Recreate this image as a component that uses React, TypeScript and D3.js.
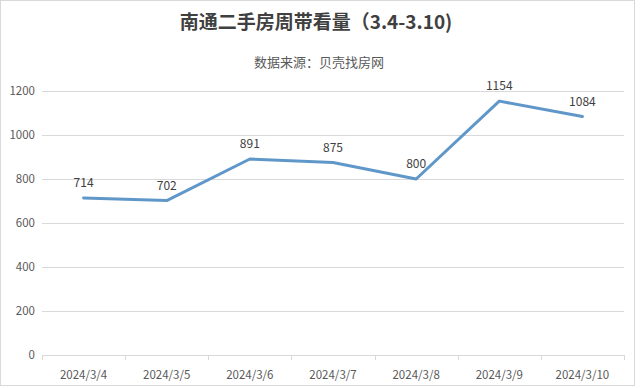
import React, { useRef, useEffect } from 'react';
import * as d3 from 'd3';

const title = '南通二手房周带看量（3.4-3.10)';
const subtitle = '数据来源：贝壳找房网';
const dates = ['2024/3/4', '2024/3/5', '2024/3/6', '2024/3/7', '2024/3/8', '2024/3/9', '2024/3/10'];
const views = [714, 702, 891, 875, 800, 1154, 1084];
const yTicks = [0, 200, 400, 600, 800, 1000, 1200];

const W = 640;
const H = 388;
const font = '"Noto Sans CJK SC", "Noto Sans", sans-serif';

function App() {
  const svgRef = useRef<SVGSVGElement>(null);

  useEffect(() => {
    const svg = d3.select(svgRef.current);
    svg.selectAll('*').remove();

    const left = 42, right = 624, top = 91, bottom = 355;

    // outer frame
    svg.append('rect')
      .attr('x', 0.5).attr('y', 0.5)
      .attr('width', 634).attr('height', 385)
      .attr('fill', '#fff')
      .attr('stroke', '#d9d9d9');

    const x = d3.scaleBand().domain(dates).range([left, right]);
    const y = d3.scaleLinear().domain([0, 1200]).range([bottom, top]);

    // gridlines
    svg.append('g')
      .selectAll('line')
      .data(yTicks.filter(t => t > 0))
      .join('line')
      .attr('x1', left).attr('x2', right)
      .attr('y1', d => Math.round(y(d)) + 0.5)
      .attr('y2', d => Math.round(y(d)) + 0.5)
      .attr('stroke', '#d9d9d9');

    // y labels
    svg.append('g')
      .selectAll('text')
      .data(yTicks)
      .join('text')
      .attr('x', 35)
      .attr('y', d => y(d))
      .attr('dy', '0.35em')
      .attr('text-anchor', 'end')
      .style('font-family', font)
      .style('font-size', '11.5px')
      .style('fill', '#595959')
      .text(d => d);

    // x axis
    const xAxis = svg.append('g');
    xAxis.append('line')
      .attr('x1', left).attr('x2', right)
      .attr('y1', bottom + 0.5).attr('y2', bottom + 0.5)
      .attr('stroke', '#d9d9d9');
    const tickXs = dates.map(d => x(d) as number).concat([right]);
    xAxis.selectAll('line.tick')
      .data(tickXs)
      .join('line')
      .attr('class', 'tick')
      .attr('x1', d => Math.round(d) + 0.5).attr('x2', d => Math.round(d) + 0.5)
      .attr('y1', bottom).attr('y2', bottom + 5)
      .attr('stroke', '#d9d9d9');
    xAxis.selectAll('text')
      .data(dates)
      .join('text')
      .attr('x', d => (x(d) as number) + x.bandwidth() / 2)
      .attr('y', 375)
      .attr('dy', '0.35em')
      .attr('text-anchor', 'middle')
      .style('font-family', font)
      .style('font-size', '11.5px')
      .style('fill', '#595959')
      .text(d => d);

    const pts = dates.map((d, i) => ({ d, v: views[i] }));
    const cx = (d: string) => (x(d) as number) + x.bandwidth() / 2;

    const lineGen = d3.line<{ d: string; v: number }>()
      .x(p => cx(p.d))
      .y(p => y(p.v));

    svg.append('path')
      .datum(pts)
      .attr('d', lineGen)
      .attr('fill', 'none')
      .attr('stroke', '#6097c9')
      .attr('stroke-width', 3)
      .attr('stroke-linejoin', 'round')
      .attr('stroke-linecap', 'round');

    // data labels
    svg.append('g')
      .selectAll('text')
      .data(pts)
      .join('text')
      .attr('x', p => cx(p.d))
      .attr('y', p => y(p.v) - 11)
      .attr('text-anchor', 'middle')
      .style('font-family', font)
      .style('font-size', '12px')
      .style('fill', '#404040')
      .text(p => p.v);

    svg.append('text')
      .attr('x', 316).attr('y', 29)
      .attr('text-anchor', 'middle')
      .style('font-family', font)
      .style('font-size', '19px')
      .style('font-weight', 'bold')
      .style('fill', '#404040')
      .text(title);

    svg.append('text')
      .attr('x', 319).attr('y', 67)
      .attr('text-anchor', 'middle')
      .style('font-family', font)
      .style('font-size', '13px')
      .style('fill', '#595959')
      .text(subtitle);
  }, []);

  return (
    <svg
      ref={svgRef}
      width={W}
      height={H}
      style={{ position: 'absolute', top: 0, left: 0, background: '#fff' }}
    />
  );
}

export default App;
